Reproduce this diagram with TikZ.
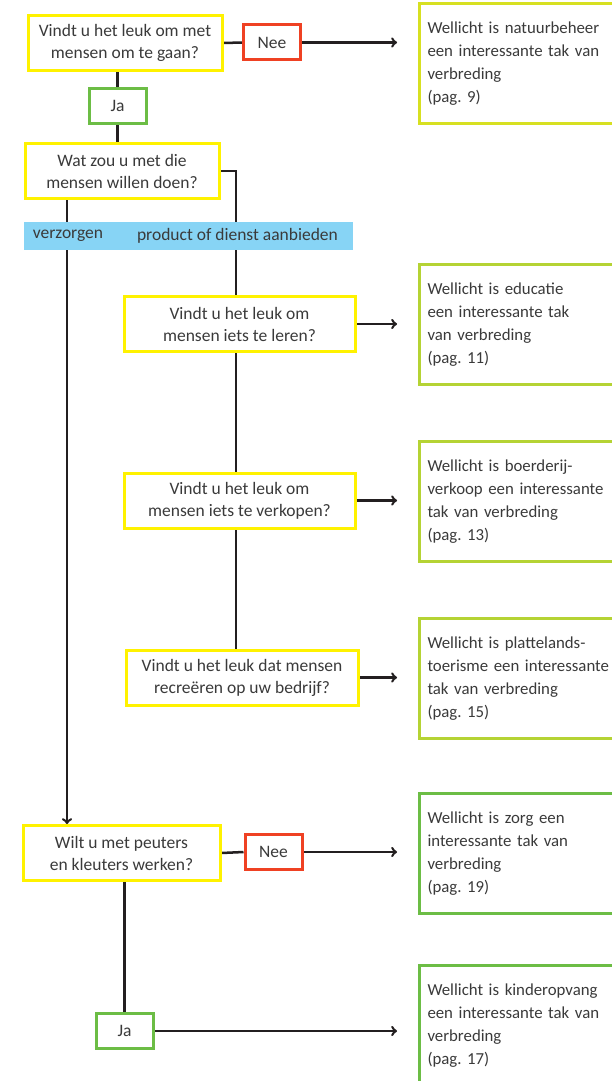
\documentclass[tikz,border=0pt]{standalone}
\usepackage{fontspec}
\setmainfont{Carlito}
\usepackage{xcolor}
\usetikzlibrary{backgrounds}

\definecolor{qyellow}{HTML}{FFF200}
\definecolor{neered}{HTML}{EF4123}
\definecolor{jagreen}{HTML}{6CBD45}
\definecolor{limeA}{HTML}{D7E021}
\definecolor{limeB}{HTML}{B5D334}
\definecolor{bandblue}{HTML}{87D4F5}
\definecolor{txtgray}{HTML}{3A3A3A}
\definecolor{linegray}{HTML}{231F20}

\begin{document}
\frenchspacing
\begin{tikzpicture}[x=1pt,y=-1pt,
    every node/.style={font=\fontsize{17.5}{22}\selectfont,text=txtgray,inner sep=0pt},
    vraag/.style={draw=qyellow,line width=3pt,fill=white,align=center,minimum height=55pt},
    nee/.style={draw=neered,line width=3pt,fill=white,minimum width=57pt,minimum height=35pt},
    ja/.style={draw=jagreen,line width=3pt,fill=white,minimum width=57pt,minimum height=35pt},
    uitkomst/.style={draw=#1,line width=3pt,fill=white,anchor=north west,align=left,
        font=\fontsize{16.8}{23}\selectfont,
        text width=194pt,minimum height=120pt,inner xsep=8pt},
    verbind/.style={draw=linegray,line width=2.5pt},
    >=to]
    \useasboundingbox (0,0) rectangle (612,1081);

    % vragen
    \node[vraag,minimum width=194pt] (q1) at (125,43) {Vindt u het leuk om met\\mensen om te gaan?};
    \node[nee] (nee1) at (272,42.5) {Nee};
    \node[ja] (ja1) at (117.5,105.5) {Ja};
    \node[vraag,minimum width=194pt] (q2) at (122,171) {Wat zou u met die\\mensen willen doen?};
    \node[vraag,minimum width=231pt] (q3) at (239.5,324) {Vindt u het leuk om\\mensen iets te leren?};
    \node[vraag,minimum width=231pt] (q4) at (239.5,500.5) {Vindt u het leuk om\\mensen iets te verkopen?};
    \node[vraag,minimum width=232pt] (q5) at (242,677.5) {Vindt u het leuk dat mensen\\recreëren op uw bedrijf?};
    \node[vraag,minimum width=197pt] (q6) at (121.5,853) {Wilt u met peuters\\en kleuters werken?};
    \node[nee] (nee2) at (273.5,852) {Nee};
    \node[ja] (ja2) at (124.5,1031) {Ja};

    % blauwe balk
    \node[fill=bandblue,minimum width=329pt,minimum height=28pt] (balk) at (188.5,236) {};
    \node (verz) at (68,236) {verzorgen};
    \node (prod) at (237.5,236) {product of dienst aanbieden};

    % uitkomsten
    \node[uitkomst=limeA] (r1) at (418,2) {Wellicht is natuurbeheer\\een interessante tak van\\verbreding\\(pag. 9)};
    \node[uitkomst=limeB] (r2) at (418,263) {Wellicht is educatie\\een interessante tak\\van verbreding\\(pag. 11)};
    \node[uitkomst=limeB] (r3) at (418,440) {Wellicht is boerderij-\\verkoop een interessante\\tak van verbreding\\(pag. 13)};
    \node[uitkomst=limeB] (r4) at (418,617) {Wellicht is plattelands-\\toerisme een interessante\\tak van verbreding\\(pag. 15)};
    \node[uitkomst=jagreen] (r5) at (418,792) {Wellicht is zorg een\\interessante tak van\\verbreding\\(pag. 19)};
    \node[uitkomst=jagreen] (r6) at (418,964) {Wellicht is kinderopvang\\een interessante tak van\\verbreding\\(pag. 17)};

    % hulplijnen voor de pijlen
    \coordinate (eind) at (397,0);
    \coordinate (links) at (67,0);
    \coordinate (rechts) at (236,0);

    \begin{pgfonlayer}{background}
    \draw[verbind] (q1.east) -- (nee1.west);
    \draw[verbind,->] (nee1.east) -- (nee1.east -| eind);
    \draw[verbind] (q1.south -| ja1.north) -- (ja1.north);
    \draw[verbind] (ja1.south) -- (q2.north -| ja1.south);
    \draw[verbind] (q2.east) -| (q5.north -| rechts);
    \draw[verbind,->] (q2.south -| links) -- (q6.north -| links);
    \draw[verbind,->] (q3.east) -- (q3.east -| eind);
    \draw[verbind,->] (q4.east) -- (q4.east -| eind);
    \draw[verbind,->] (q5.east) -- (q5.east -| eind);
    \draw[verbind] (q6.east) -- (nee2.west);
    \draw[verbind,->] (nee2.east) -- (nee2.east -| eind);
    \draw[verbind] (q6.south -| ja2.north) -- (ja2.north);
    \draw[verbind,->] (ja2.east) -- (ja2.east -| eind);
    \end{pgfonlayer}
\end{tikzpicture}
\end{document}
